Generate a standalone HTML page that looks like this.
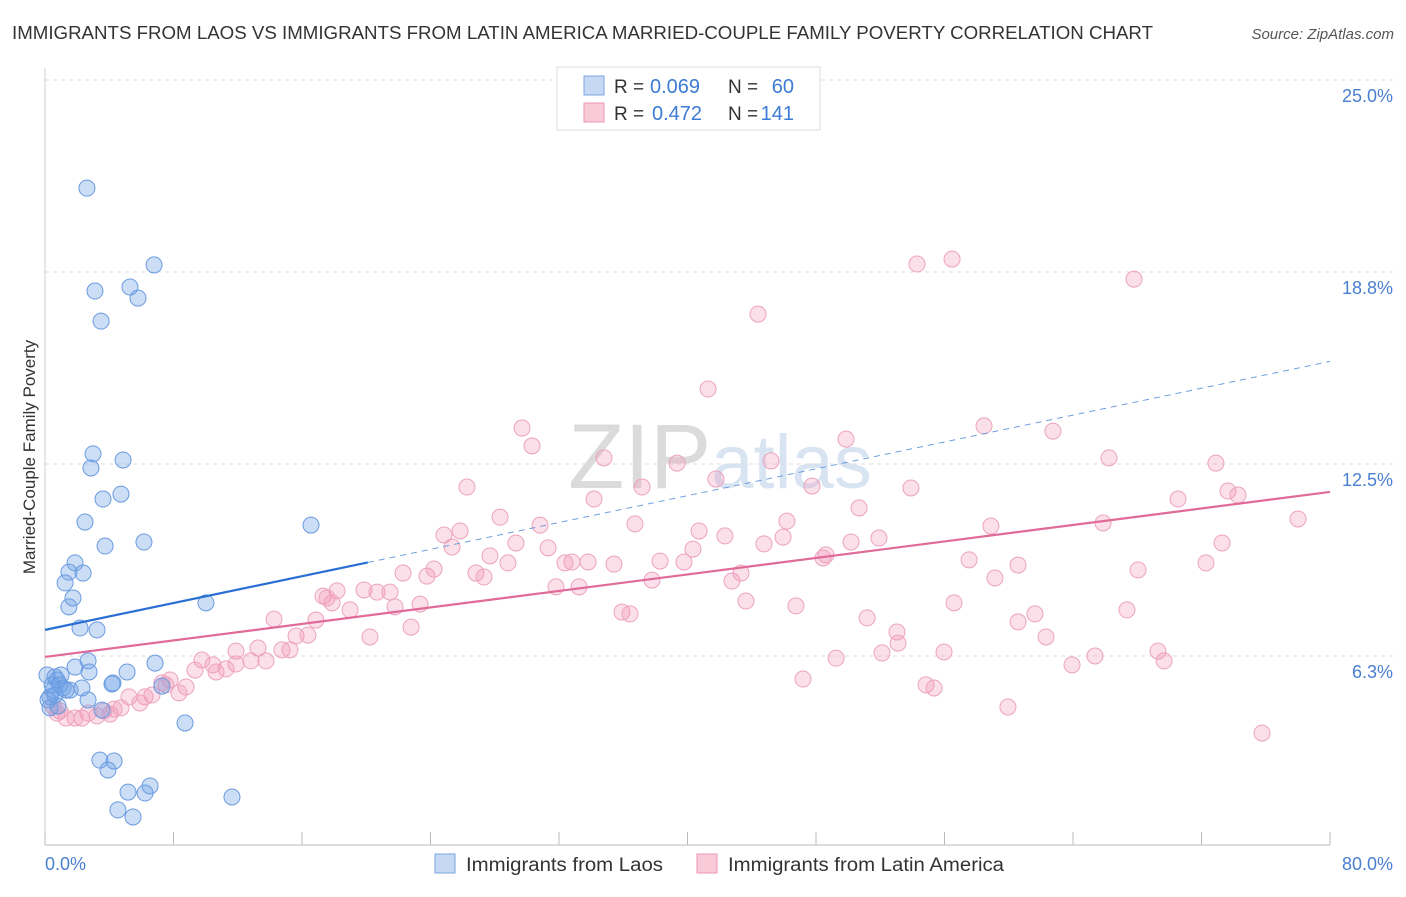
<!DOCTYPE html>
<html><head><meta charset="utf-8"><style>
body{margin:0;background:#fff;font-family:"Liberation Sans",sans-serif;}
svg text{font-family:"Liberation Sans",sans-serif;}
</style></head><body>
<svg id="chart" width="1406" height="892" xmlns="http://www.w3.org/2000/svg">
<text x="12" y="39" font-size="18" fill="#333" textLength="1141" lengthAdjust="spacingAndGlyphs">IMMIGRANTS FROM LAOS VS IMMIGRANTS FROM LATIN AMERICA MARRIED-COUPLE FAMILY POVERTY CORRELATION CHART</text>
<text x="1394" y="39" font-size="15" fill="#555" text-anchor="end" font-style="italic">Source: ZipAtlas.com</text>
<text x="720" y="488" font-size="92" text-anchor="middle" fill="#ddd" opacity="0.7" font-family="Liberation Serif"><tspan fill="#ccc">ZIP</tspan><tspan fill="#c9d9ee" font-family="Liberation Sans" font-size="76">atlas</tspan></text>
<g id="grid"></g><g id="axes"></g><g id="pts"></g><g id="lines"></g>
<text transform="translate(35,457) rotate(-90)" font-size="17" fill="#333" text-anchor="middle">Married-Couple Family Poverty</text>
<text x="45" y="870" font-size="18" fill="#4a7fd0">0.0%</text>
<text x="1393" y="870" font-size="18" fill="#4a7fd0" text-anchor="end">80.0%</text>
<g>
<rect x="557" y="67" width="263" height="63" fill="#fff" stroke="#ddd"/>
<rect x="584" y="76" width="20" height="19" fill="#c5d9f5" stroke="#7aa6e0"/>
<rect x="584" y="103" width="20" height="19" fill="#f9cbd9" stroke="#eb97b4"/>
<text x="614" y="93" font-size="19" fill="#333">R =</text>
<text x="650" y="93" font-size="20" fill="#3c7bd6">0.069</text>
<text x="728" y="93" font-size="19" fill="#333">N =</text>
<text x="794" y="93" font-size="20" fill="#3c7bd6" text-anchor="end">60</text>
<text x="614" y="120" font-size="19" fill="#333">R =</text>
<text x="652" y="120" font-size="20" fill="#3c7bd6">0.472</text>
<text x="728" y="120" font-size="19" fill="#333">N =</text>
<text x="794" y="120" font-size="20" fill="#3c7bd6" text-anchor="end">141</text>
</g>
<g>
<rect x="435" y="854" width="20" height="19" fill="#c5d9f5" stroke="#7aa6e0"/>
<text x="466" y="871" font-size="19" fill="#333" textLength="197" lengthAdjust="spacingAndGlyphs">Immigrants from Laos</text>
<rect x="697" y="854" width="20" height="19" fill="#f9cbd9" stroke="#eb97b4"/>
<text x="728" y="871" font-size="19" fill="#333" textLength="276" lengthAdjust="spacingAndGlyphs">Immigrants from Latin America</text>
</g>
</svg>
<script>
const yTicks=[6.3,12.5,18.8,25.0];
const yTickVals=[6.25,12.5,18.75,25];
const laosPx=[[87,188],[95,291],[101,321],[130,287],[138,298],[154,265],[93,454],[91,468],[123,460],[103,499],[121,494],[85,522],[105,546],[144,542],[75,563],[69,572],[83,573],[65,583],[73,598],[69,607],[80,628],[97,630],[206,603],[311,525],[88,661],[75,667],[89,672],[61,675],[47,675],[55,677],[127,672],[155,663],[113,683],[53,690],[63,688],[70,690],[82,688],[50,697],[88,700],[162,686],[50,708],[58,706],[102,710],[185,723],[100,760],[114,761],[108,770],[150,786],[128,792],[145,793],[118,810],[133,817],[232,797],[57,680],[52,685],[60,685],[48,700],[66,690],[55,695],[112,684]];
const latamPx=[[917,264],[952,259],[1134,279],[758,314],[708,389],[522,428],[532,446],[604,458],[677,463],[771,461],[846,439],[984,426],[1053,431],[1109,458],[1216,463],[1228,491],[1238,495],[1178,499],[1298,519],[467,487],[594,499],[642,487],[716,479],[812,486],[911,488],[859,508],[500,517],[540,525],[444,535],[460,531],[452,547],[516,543],[548,548],[635,524],[699,531],[725,536],[787,521],[783,537],[764,544],[693,549],[660,561],[684,562],[826,555],[823,558],[851,542],[879,538],[991,526],[1103,523],[1222,543],[1206,563],[1138,570],[969,560],[1018,565],[995,578],[490,556],[508,563],[572,562],[565,563],[588,562],[614,564],[403,573],[427,576],[434,569],[476,573],[484,577],[556,587],[579,587],[652,580],[732,581],[741,573],[746,601],[796,606],[867,618],[954,603],[1035,614],[1018,622],[1127,610],[897,632],[898,643],[882,653],[944,652],[1046,637],[1072,665],[1095,656],[1158,651],[1164,661],[836,658],[803,679],[926,685],[934,688],[1008,707],[1262,733],[337,591],[323,596],[350,610],[332,603],[364,590],[377,592],[390,592],[395,607],[420,604],[411,627],[370,637],[327,598],[274,619],[316,620],[296,636],[308,635],[282,650],[290,650],[258,648],[266,661],[251,661],[236,651],[236,664],[226,669],[213,665],[202,660],[195,670],[216,672],[186,687],[170,680],[166,685],[162,683],[152,695],[145,697],[129,697],[140,703],[121,708],[114,709],[104,711],[97,716],[88,713],[82,718],[75,718],[66,718],[60,711],[53,706],[57,713],[110,714],[622,612],[630,614],[179,693]];
const xv=p=>(p-45)/1285*80, yv=p=>(848-p)/30.72;
const laosX=laosPx.map(p=>+xv(p[0]).toFixed(2)), laosY=laosPx.map(p=>+yv(p[1]).toFixed(2));
const latamX=latamPx.map(p=>+xv(p[0]).toFixed(2)), latamY=latamPx.map(p=>+yv(p[1]).toFixed(2));
const laosTrend=[7.10,15.84], laosSolidEnd=20.1;
const latamTrend=[6.22,11.59];
const X=v=>45+v/80*1285, Y=v=>848-v*30.72;
const NS='http://www.w3.org/2000/svg';
function mk(tag,parent,attrs){const e=document.createElementNS(NS,tag);for(const k in attrs)e.setAttribute(k,attrs[k]);document.getElementById(parent).appendChild(e);return e;}
yTickVals.forEach((v,i)=>{
 const l=mk('line','grid',{x1:45,x2:1393,y1:Y(v),y2:Y(v),stroke:'#ddd','stroke-dasharray':'4,4'});
 
 
 const t=mk('text','grid',{x:1393,y:Y(v)+22,'font-size':18,fill:'#4a7fd0','text-anchor':'end'});
 t.textContent=yTicks[i].toFixed(1)+'%';
 
 
});
const ax=mk('line','axes',{x1:45,x2:1330,y1:845,y2:845,stroke:'#bbb'});


const ay=mk('line','axes',{x1:45,x2:45,y1:68,y2:845,stroke:'#ccc'});


for(let i=0;i<=10;i++){const t=mk('line','axes',{x1:X(i*8),x2:X(i*8),y1:845,y2:832,stroke:'#bbb'});
 
 }
latamX.forEach((x,i)=>{const c=mk('circle','pts',{cx:X(x),cy:Y(latamY[i]),r:8,fill:'rgba(242,150,182,0.3)',stroke:'#eda3bd','stroke-width':1});
 
 });
laosX.forEach((x,i)=>{const c=mk('circle','pts',{cx:X(x),cy:Y(laosY[i]),r:8,fill:'rgba(110,160,230,0.35)',stroke:'#6a9be0','stroke-width':1});
 
 });
const ly=x=>laosTrend[0]+(laosTrend[1]-laosTrend[0])*x/80;
const l1=mk('line','lines',{x1:X(0),y1:Y(ly(0)),x2:X(laosSolidEnd),y2:Y(ly(laosSolidEnd)),stroke:'#2a6fd4','stroke-width':2.2});


const l2=mk('line','lines',{x1:X(laosSolidEnd),y1:Y(ly(laosSolidEnd)),x2:X(80),y2:Y(ly(80)),stroke:'#6a9be0','stroke-width':1,'stroke-dasharray':'6,5'});


const l3=mk('line','lines',{x1:X(0),y1:Y(latamTrend[0]),x2:X(80),y2:Y(latamTrend[1]),stroke:'#e06a98','stroke-width':2.2});


</script>
</body></html>
